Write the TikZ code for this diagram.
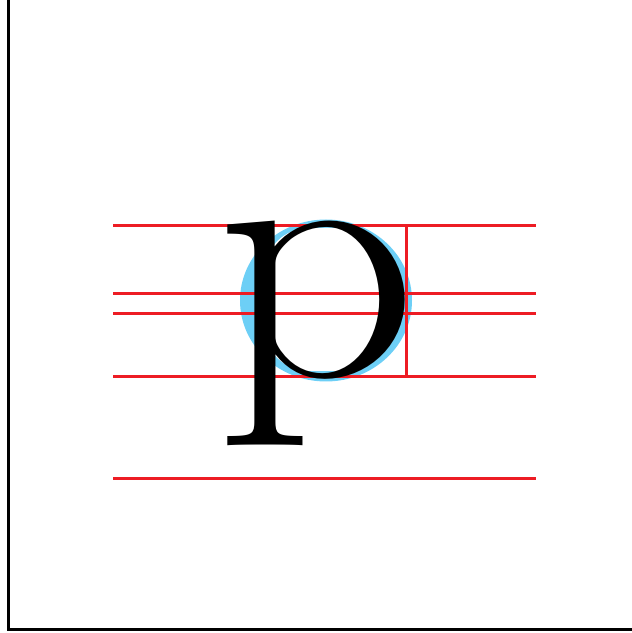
\documentclass[tikz,border=0pt]{standalone}
\usepackage{xcolor}
\usepackage{tikz}
\definecolor{guidered}{HTML}{ED1C24}
\definecolor{bowlblue}{HTML}{6DCFF6}

\begin{document}
\begin{tikzpicture}[
  x=1pt, y=1pt,
  guide/.style={draw=guidered, line width=3pt},
  frame/.style={draw=black, line width=3pt},
  glyph/.style={inner sep=0pt, font=\fontsize{355}{355}\selectfont}
]
\useasboundingbox (0,0) rectangle (632,633);
\clip (0,0) rectangle (632,633);
\draw[frame] (8,3) rectangle (700,700);
\fill[bowlblue] (326,332.5) ellipse [x radius=86, y radius=81];
\fill[white, rounded corners=45] (264,262) rectangle (386,405);
\draw[guide] (113,407) -- (536,407);
\draw[guide] (113,339) -- (536,339);
\draw[guide] (113,319) -- (536,319);
\draw[guide] (113,256) -- (536,256);
\draw[guide] (113,154) -- (536,154);
\draw[guide] (406,407) -- (406,256);
\node[glyph, anchor=base west] (letter) at (215,256) {\scalebox{1.12}[1]{p}};
\end{tikzpicture}
\end{document}
